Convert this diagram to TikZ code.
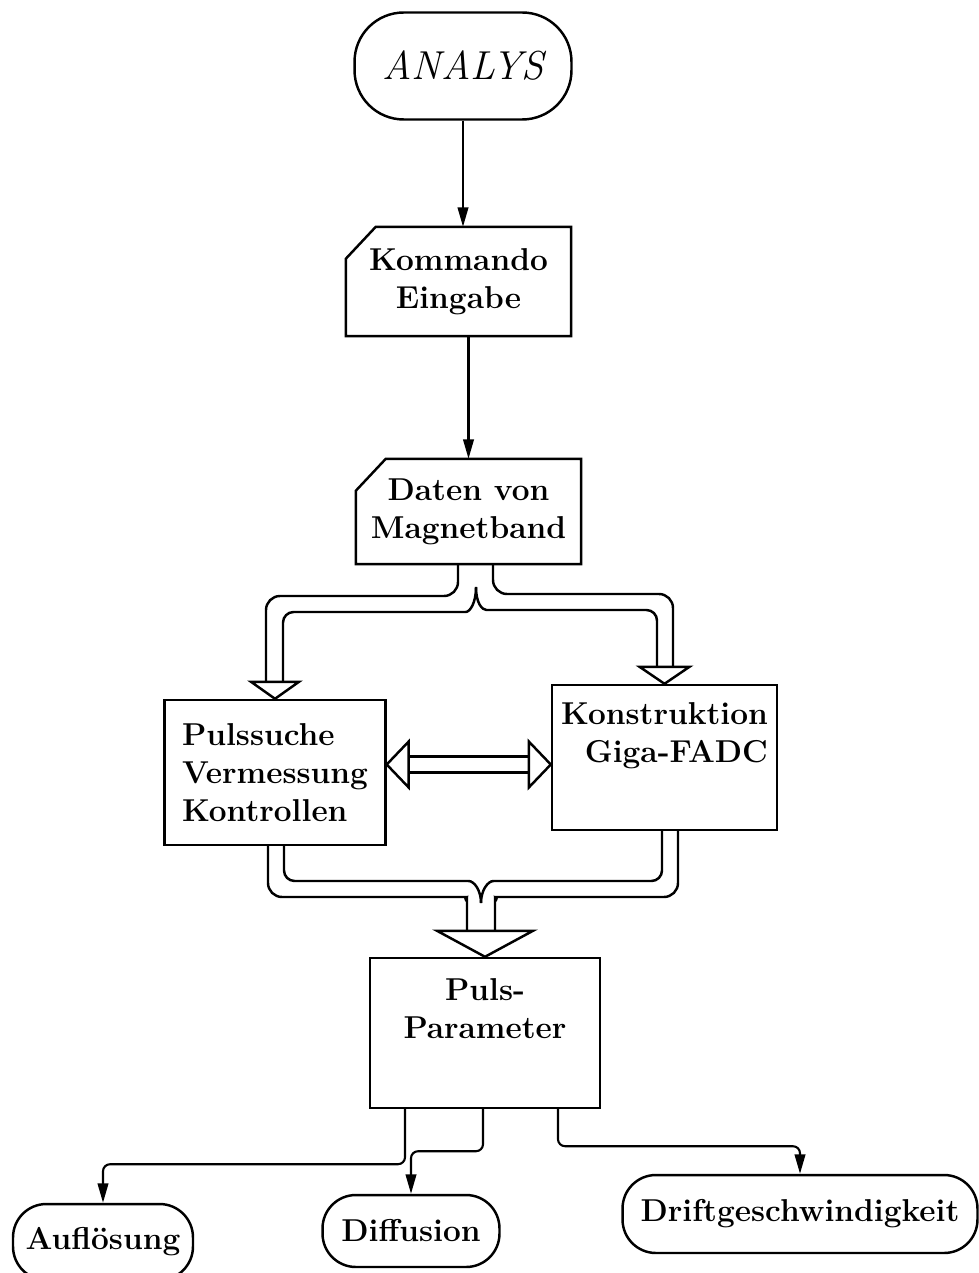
\documentclass[tikz,border=0pt]{standalone}
\usepackage{amsmath}
\usepackage{tikz}
\usetikzlibrary{arrows.meta}
\usetikzlibrary{calc}
\def\breite{979}
\def\hoehe{1273}
\def\kasten{\fontsize{18}{21.5}\selectfont\bfseries}

\begin{document}
\begin{tikzpicture}[x=0.02cm, y=-0.02cm, line width=1.4pt,
  kasten/.style={draw, rectangle, font=\kasten, align=center, inner sep=2pt},
  karte/.style={rectangle, font=\kasten, align=center, inner sep=2pt},
  oval/.style={draw, rectangle, rounded corners=19pt, font=\kasten, inner xsep=0pt},
  pfeil/.style={-{Triangle[length=11pt,width=6pt]}, line width=1.2pt},
  spitze/.style={fill=white, line join=miter}]
\useasboundingbox (0,0) rectangle (\breite,\hoehe);
%\draw[step=50, very thin, black!20] (0,0) grid (\breite,\hoehe);

% Start und Eingabe
\node[oval, rounded corners=28pt, minimum width=4.34cm, minimum height=2.14cm, font=\fontsize{23}{27}\selectfont\itshape] (analys) at (463,66) {ANALYS};
\node[karte, minimum width=4.46cm, minimum height=2.14cm] (kommando) at (458.5,281.5) {Kommando\\Eingabe};
\node[karte, minimum width=4.46cm, minimum height=2.06cm] (daten) at (468.5,511.5) {Daten von\\Magnetband};
\draw ($(kommando.north west)+(30,0)$) -- (kommando.north east) -- (kommando.south east) -- (kommando.south west) -- ($(kommando.north west)+(0,32)$) -- cycle;
\draw ($(daten.north west)+(30,0)$) -- (daten.north east) -- (daten.south east) -- (daten.south west) -- ($(daten.north west)+(0,32)$) -- cycle;

% Verarbeitung
\node[kasten, align=left, minimum width=4.42cm, minimum height=2.9cm] (puls) at (275,772.5) {Pulssuche\\Vermessung\\Kontrollen};
\node[kasten, align=right, minimum width=4.5cm, minimum height=2.9cm, text depth=28pt] (konstr) at (664.5,757.5) {Konstruktion\\Giga-FADC};
\node[kasten, minimum width=4.6cm, minimum height=3cm, text depth=28pt] (param) at (485,1033) {Puls-\\Parameter};

% Ergebnisse
\node[oval, minimum width=3.6cm, minimum height=1.52cm] (aufl) at (103,1242) {Auflösung};
\node[oval, minimum width=3.54cm, minimum height=1.44cm] (diff) at (411,1231) {Diffusion};
\node[oval, minimum width=7.1cm, minimum height=1.56cm] (drift) at (800,1214) {Driftgeschwindigkeit};

\draw[pfeil] (analys.south) -- (analys.south |- kommando.north);
\draw[pfeil] (daten.north |- kommando.south) -- (daten.north);

% Verzweigung unter dem Magnetband
\draw[rounded corners=8pt] (458,563) -- (458,596) -- (266,596) -- (266,683);
\draw[rounded corners=8pt] (493,563) -- (493,594) -- (673,594) -- (673,668);
\draw[rounded corners=6pt] (476,587) .. controls (476,603) and (470,612) .. (455,612) -- (283,612) -- (283,683);
\draw[rounded corners=6pt] (476,587) .. controls (476,603) and (482,610) .. (497,610) -- (657,610) -- (657,668);
\draw[spitze] (puls.north) -- ++(-24,-17) -- ++(48,0) -- cycle;
\draw[spitze] (konstr.north) -- ++(-25,-17) -- ++(50,0) -- cycle;

% Doppelpfeil
\coordinate (links) at ($(puls.east)+(0,-8)$);
\coordinate (rechts) at (konstr.west |- links);
\draw ($(links)+(22,-8)$) -- ($(rechts)+(-22,-8)$);
\draw ($(links)+(22,8)$) -- ($(rechts)+(-22,8)$);
\draw[spitze] (links) -- ++(22,-23) -- ++(0,46) -- cycle;
\draw[spitze] (rechts) -- ++(-22,-23) -- ++(0,46) -- cycle;

% Zusammenfuehrung
\draw[rounded corners=8pt] (268,845) -- (268,897) -- (452,897) .. controls (464,897) and (467,903) .. (467,914) -- (467,932);
\draw[rounded corners=6pt] (284,845) -- (284,881) -- (458,881) .. controls (474,881) and (481,890) .. (481,903);
\draw[rounded corners=6pt] (662,830) -- (662,881) -- (504,881) .. controls (488,881) and (481,890) .. (481,903);
\draw[rounded corners=8pt] (678,830) -- (678,897) -- (510,897) .. controls (498,897) and (495,903) .. (495,914) -- (495,932);
\draw[spitze] (param.north) -- ++(-48,-26) -- ++(96,0) -- cycle;

\draw[pfeil, rounded corners=4pt] ($(param.south)+(-80,0)$) -- ++(0,55) -| (aufl.north);
\draw[pfeil, rounded corners=4pt] ($(param.south)+(-2,0)$) -- ++(0,42) -| (diff.north);
\draw[pfeil, rounded corners=4pt] ($(param.south)+(73,0)$) -- ++(0,37) -| (drift.north);
\end{tikzpicture}
\end{document}
